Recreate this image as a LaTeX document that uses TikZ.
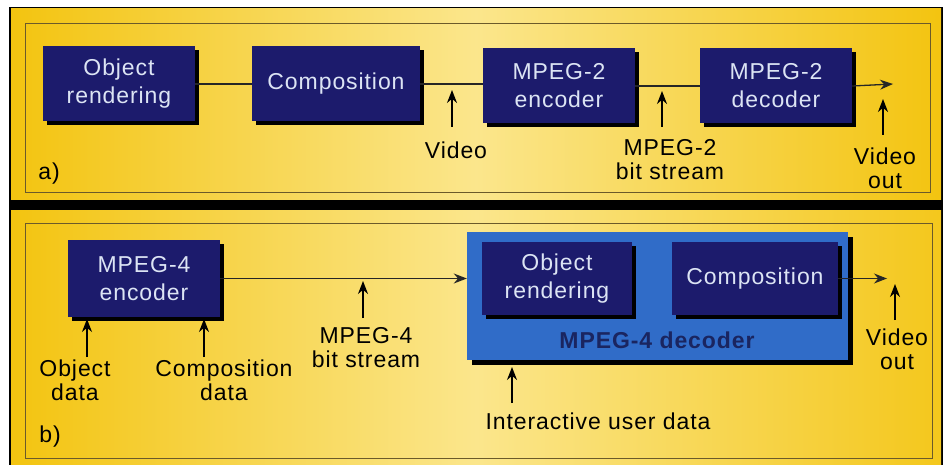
\documentclass[tikz,border=0pt]{standalone}
\usepackage{fontspec}
\setmainfont{Liberation Sans}[LetterSpace=4]
\usetikzlibrary{arrows.meta}
\definecolor{gold}{HTML}{F3C410}
\definecolor{paleyel}{HTML}{FBE68C}
\definecolor{navy}{HTML}{1C1B6C}
\definecolor{boxtext}{HTML}{DCE4F4}
\definecolor{decblue}{HTML}{306CC8}
\definecolor{decnavy}{HTML}{1A2560}
\definecolor{thinline}{HTML}{6B5A2A}
\tikzset{
  navybox/.style={fill=navy, text=boxtext, align=center, inner sep=0pt,
    font=\fontsize{23}{28}\selectfont,
    preaction={fill=black, transform canvas={xshift=3.5pt,yshift=-3.5pt}}},
  lbl/.style={align=center, inner sep=0pt, font=\fontsize{23}{24}\selectfont},
  tip/.style={-{Stealth[length=13pt,width=10pt]}},
  conn/.style={line width=1.3pt, draw=black!85},
  arr/.style={line width=1.7pt, tip},
}
\begin{document}
\begin{tikzpicture}[x=1pt,y=-1pt]
\useasboundingbox (0,0) rectangle (949,465);
\fill[white] (0,0) rectangle (949,465);
% panels
\fill[black] (9,7) rectangle (943,465);
\shade[left color=gold, right color=gold, middle color=paleyel] (11,9) rectangle (941,199);
\shade[left color=gold, right color=gold!90!paleyel, middle color=paleyel] (11,210) rectangle (941,465);
\draw[thinline, line width=0.6pt] (25,23) rectangle (930,192);
\draw[thinline, line width=0.6pt] (25,223) rectangle (932,458);

% ---------- panel a ----------
\node[navybox, minimum width=152pt, minimum height=75pt] (oa) at (119,84) {Object\\rendering};
\node[navybox, minimum width=168pt, minimum height=75pt] (ca) at (336,84) {Composition};
\node[navybox, minimum width=152pt, minimum height=75pt] (ea) at (559,86) {MPEG-2\\encoder};
\node[navybox, minimum width=152pt, minimum height=75pt] (da) at (776,86) {MPEG-2\\decoder};
\coordinate (aout) at (893,84);
\draw[conn] (oa.east) -- (ca.west);
\draw[conn] (ca.east) -- (ea.west |- ca.east);
\draw[conn] (ea.east) -- (da.west);
\draw[conn, tip] (da.east) -- (aout);

\node[lbl] (lvid) at (456,150) {Video};
\node[lbl] (lbs2) at (670,160) {MPEG-2\\bit stream};
\node[lbl] (lvo1) at (885,168) {Video\\out};
\node[lbl] (la) at (49,174) {a)};
\coordinate (v1t) at (452,90);  \coordinate (v1s) at (452,127);
\coordinate (b2t) at (662,91);  \coordinate (b2s) at (662,127);
\coordinate (o1t) at (883,99); \coordinate (o1s) at (883,135);
\draw[arr] (v1s) -- (v1t);
\draw[arr] (b2s) -- (b2t);
\draw[arr] (o1s) -- (o1t);

% ---------- panel b ----------
\node[fill=decblue, minimum width=381pt, minimum height=128pt, inner sep=0pt,
  preaction={fill=black, transform canvas={xshift=5pt,yshift=-5pt}}] (dec) at (657.5,296) {};
\node[navybox, minimum width=152pt, minimum height=77pt] (eb) at (144,278.5) {MPEG-4\\encoder};
\node[navybox, minimum width=150pt, minimum height=73pt] (ob) at (557,278.5) {Object\\rendering};
\node[navybox, minimum width=166pt, minimum height=73pt] (cb) at (755,278.5) {Composition};
\node[text=decnavy, font=\bfseries\fontsize{23}{24}\selectfont, inner sep=0pt] (dlab) at (657,340) {MPEG-4 decoder};
\coordinate (bout) at (887,278.5);
\draw[conn, tip] (eb.east) -- (dec.west |- eb.east);
\draw[conn, tip] (cb.east) -- (bout);

\node[lbl] (lobj) at (75,380) {Object\\data};
\node[lbl] (lcomp) at (224,380) {Composition\\data};
\node[lbl] (lbs4) at (366,348) {MPEG-4\\bit stream};
\node[lbl] (lvo2) at (897,349) {Video\\out};
\node[lbl] (lint) at (598,421) {Interactive user data};
\node[lbl] (lb) at (50,437) {b)};
\coordinate (odt) at (87,319);  \coordinate (ods) at (87,357);
\coordinate (cdt) at (204,319); \coordinate (cds) at (204,357);
\coordinate (b4t) at (363,281); \coordinate (b4s) at (363,318);
\coordinate (o2t) at (895,284); \coordinate (o2s) at (895,320);
\coordinate (iut) at (512,367); \coordinate (ius) at (512,403);
\draw[arr] (ods) -- (odt);
\draw[arr] (cds) -- (cdt);
\draw[arr] (b4s) -- (b4t);
\draw[arr] (o2s) -- (o2t);
\draw[arr] (ius) -- (iut);
\end{tikzpicture}
\end{document}
